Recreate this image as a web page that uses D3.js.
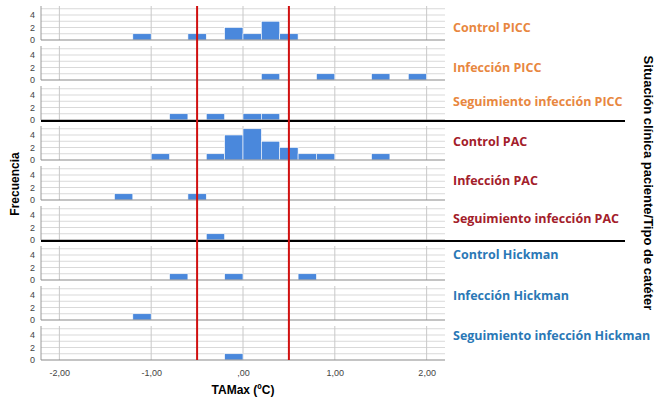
<!DOCTYPE html>
<html>
<head>
<meta charset="utf-8">
<script src="https://cdn.jsdelivr.net/npm/d3@7"></script>
<style>
  body { margin: 0; background: #fff; }
  svg { display: block; }
</style>
</head>
<body>
<svg class="panel-chart"></svg>
<script>
// categories (panels, top to bottom)
var panelNames = ["Control PICC", "Infección PICC", "Seguimiento infección PICC",
                  "Control PAC", "Infección PAC", "Seguimiento infección PAC",
                  "Control Hickman", "Infección Hickman", "Seguimiento infección Hickman"];
var panelGroup = ["PICC", "PICC", "PICC", "PAC", "PAC", "PAC", "Hickman", "Hickman", "Hickman"];

// histogram bins: lower edge of each 0.2 bin and its count
var controlPICC     = [[-1.2, 1], [-0.6, 1], [-0.2, 2], [0.0, 1], [0.2, 3], [0.4, 1]];
var infeccionPICC   = [[0.2, 1], [0.8, 1], [1.4, 1], [1.8, 1]];
var seguimientoPICC = [[-0.8, 1], [-0.4, 1], [0.0, 1], [0.2, 1]];
var controlPAC      = [[-1.0, 1], [-0.4, 1], [-0.2, 4], [0.0, 5], [0.2, 3], [0.4, 2], [0.6, 1], [0.8, 1], [1.4, 1]];
var infeccionPAC    = [[-1.4, 1], [-0.6, 1]];
var seguimientoPAC  = [[-0.4, 1]];
var controlHickman     = [[-0.8, 1], [-0.2, 1], [0.6, 1]];
var infeccionHickman   = [[-1.2, 1]];
var seguimientoHickman = [[-0.2, 1]];
var panelBins = [controlPICC, infeccionPICC, seguimientoPICC, controlPAC, infeccionPAC,
                 seguimientoPAC, controlHickman, infeccionHickman, seguimientoHickman];

var BIN_W = 0.2;
var xTicks = [-2, -1, 0, 1, 2];
var xTickLabels = ["-2,00", "-1,00", ",00", "1,00", "2,00"];
var yTicks = [0, 2, 4];
var refLines = [-0.5, 0.5];   // red limit lines

CHART_WIDTH = 658;
CHART_HEIGHT = 402;
PLOT = { left: 41, right: 445, firstZero: 40, step: 40, panelH: 34 };
GROUP_COLORS = { PICC: "#e8873f", PAC: "#a3202a", Hickman: "#2a78b6" };
// vertical offset of each panel label above the panel baseline (layout only)
LABEL_DY = [-12, -12, -18, -18, -19, -21, -25, -24, -24];

var svg = d3.select(".panel-chart")
    .attr("width", CHART_WIDTH)
    .attr("height", CHART_HEIGHT);

var x = d3.scaleLinear().domain([-2.2, 2.2]).range([PLOT.left, PLOT.right]);
var y = d3.scaleLinear().domain([0, 5.44]).range([0, -PLOT.panelH]);
var panelY = d3.scaleLinear().domain([0, 1]).range([PLOT.firstZero, PLOT.firstZero + PLOT.step]);

function drawPanel(i) {
    var g = svg.append("g")
        .attr("transform", "translate(0," + panelY(i) + ")");

    // horizontal grid lines
    g.selectAll(".hgrid")
        .data(d3.range(1, 6))
        .enter().append("line")
        .attr("x1", PLOT.left).attr("x2", PLOT.right)
        .attr("y1", function(d) { return y(d); })
        .attr("y2", function(d) { return y(d); })
        .attr("stroke", "#d9d9d9").attr("stroke-width", 1);

    // vertical grid lines
    g.selectAll(".vgrid")
        .data(xTicks)
        .enter().append("line")
        .attr("x1", function(d) { return x(d); })
        .attr("x2", function(d) { return x(d); })
        .attr("y1", y(5.44)).attr("y2", 0)
        .attr("stroke", "#c8c8c8").attr("stroke-width", 1);

    // bars
    g.selectAll(".bar")
        .data(panelBins[i])
        .enter().append("rect")
        .attr("x", function(d) { return x(d[0]); })
        .attr("width", function(d) { return x(d[0] + BIN_W) - x(d[0]); })
        .attr("y", function(d) { return y(d[1]); })
        .attr("height", function(d) { return -y(d[1]); })
        .attr("fill", "#4a88dc")
        .attr("stroke", "#ffffff").attr("stroke-width", 0.6);

    // y axis
    var ya = g.append("g")
        .attr("transform", "translate(" + PLOT.left + ",0)")
        .call(d3.axisLeft(y).tickValues(yTicks).tickSize(0).tickPadding(6)
            .tickFormat(d3.format("d")));
    ya.select(".domain").attr("stroke", "#9a9a9a").attr("d", "M0," + y(5.44) + "V0");
    ya.selectAll("text").style("font", "9px 'Liberation Sans', sans-serif").attr("fill", "#444");

    // baseline
    g.append("line")
        .attr("x1", PLOT.left).attr("x2", PLOT.right)
        .attr("y1", 0).attr("y2", 0)
        .attr("stroke", "#8a8a8a").attr("stroke-width", 1.2);

    // panel label
    g.append("text")
        .attr("x", 453)
        .attr("y", LABEL_DY[i])
        .attr("dy", "0.35em")
        .style("font", "bold 12.5px 'Open Sans', sans-serif")
        .attr("fill", GROUP_COLORS[panelGroup[i]])
        .text(panelNames[i]);
}

panelNames.forEach(function(name, i) { drawPanel(i); });

// x axis labels
var xa = svg.append("g")
    .attr("transform", "translate(0," + (panelY(8) + 4) + ")")
    .call(d3.axisBottom(x).tickValues(xTicks).tickSize(0).tickPadding(6)
        .tickFormat(function(d, i) { return xTickLabels[i]; }));
xa.select(".domain").remove();
xa.selectAll("text").style("font", "9px 'Liberation Sans', sans-serif").attr("fill", "#444");

// thick separators between catheter groups
svg.selectAll(".sep")
    .data([3, 6])
    .enter().append("line")
    .attr("x1", PLOT.left).attr("x2", 625)
    .attr("y1", function(d) { return panelY(d - 1) + 1; })
    .attr("y2", function(d) { return panelY(d - 1) + 1; })
    .attr("stroke", "#000").attr("stroke-width", 2.2);

// red reference lines
svg.selectAll(".ref")
    .data(refLines)
    .enter().append("line")
    .attr("x1", function(d) { return x(d); })
    .attr("x2", function(d) { return x(d); })
    .attr("y1", panelY(0) - PLOT.panelH)
    .attr("y2", panelY(8))
    .attr("stroke", "#d01010").attr("stroke-width", 2);

// axis titles
svg.append("text")
    .attr("x", x(0))
    .attr("y", 394)
    .attr("text-anchor", "middle")
    .style("font", "bold 12px 'Liberation Sans', sans-serif")
    .text("TAMax (ºC)");

svg.append("text")
    .attr("transform", "translate(19,184) rotate(-90)")
    .attr("text-anchor", "middle")
    .style("font", "bold 12px 'Liberation Sans', sans-serif")
    .text("Frecuencia");

svg.append("text")
    .attr("transform", "translate(644,183) rotate(90)")
    .attr("text-anchor", "middle")
    .style("font", "bold 13px 'Liberation Sans', sans-serif")
    .text("Situación clínica paciente/Tipo de catéter");
</script>
</body>
</html>
